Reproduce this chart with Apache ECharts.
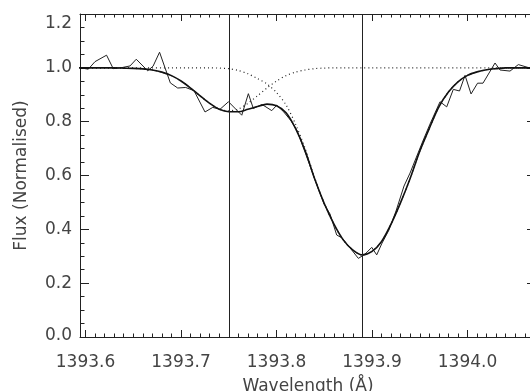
<!DOCTYPE html>
<html><head><meta charset="utf-8">
<script src="https://cdn.jsdelivr.net/npm/echarts@6/dist/echarts.min.js"></script>
<style>html,body{margin:0;padding:0;background:#fff}#c{width:530px;height:391px}</style>
</head><body><div id="c"></div>
<script>
// Observed spectrum (wavelength in Å, normalised flux)
const obsWave = [1393.5950,1393.6029,1393.6099,1393.6220,1393.6290,1393.6382,1393.6466,1393.6531,1393.6651,1393.6707,
1393.6775,1393.6888,1393.6965,1393.7049,1393.7136,1393.7251,1393.7332,1393.7408,1393.7497,1393.7636,
1393.7705,1393.7757,1393.7848,1393.7950,1393.8002,1393.8071,1393.8152,1393.8215,1393.8267,1393.8340,
1393.8403,1393.8497,1393.8560,1393.8630,1393.8686,1393.8770,1393.8857,1393.8927,1393.8997,1393.9049,
1393.9105,1393.9178,1393.9251,1393.9335,1393.9398,1393.9461,1393.9537,1393.9607,1393.9712,1393.9782,
1393.9851,1393.9916,1393.9974,1394.0037,1394.0105,1394.0162,1394.0288,1394.0340,1394.0445,1394.0532,
1394.0637,1394.0717];
const obsFlux = [1.000,0.995,1.023,1.047,0.997,1.001,1.007,1.032,0.989,1.006,
1.058,0.944,0.925,0.927,0.915,0.836,0.853,0.846,0.874,0.824,
0.904,0.849,0.864,0.841,0.861,0.838,0.803,0.767,0.717,0.646,
0.583,0.494,0.457,0.379,0.368,0.331,0.292,0.308,0.333,0.305,
0.349,0.398,0.468,0.561,0.609,0.665,0.732,0.791,0.874,0.855,
0.920,0.914,0.972,0.903,0.943,0.943,1.018,0.992,0.988,1.012,
1.001,0.999];

// Model grid, total fit and the two Gaussian components
const modelWave = [1393.59,1393.60,1393.61,1393.62,1393.63,1393.64,1393.65,1393.66,1393.67,1393.68,
1393.69,1393.70,1393.71,1393.72,1393.73,1393.74,1393.75,1393.76,1393.77,1393.78,
1393.79,1393.80,1393.81,1393.82,1393.83,1393.84,1393.85,1393.86,1393.87,1393.88,
1393.89,1393.90,1393.91,1393.92,1393.93,1393.94,1393.95,1393.96,1393.97,1393.98,
1393.99,1394.00,1394.01,1394.02,1394.03,1394.04,1394.05,1394.06,1394.07,1394.08];
const comp1Flux = [1.000,1.000,1.000,1.000,1.000,0.999,0.998,0.996,0.992,0.984,
0.971,0.951,0.925,0.896,0.868,0.847,0.840,0.847,0.868,0.896,
0.925,0.951,0.971,0.984,0.992,0.997,0.999,1.000,1.000,1.000,
1.000,1.000,1.000,1.000,1.000,1.000,1.000,1.000,1.000,1.000,
1.000,1.000,1.000,1.000,1.000,1.000,1.000,1.000,1.000,1.000];
const comp2Flux = [1.000,1.000,1.000,1.000,1.000,1.000,1.000,1.000,1.000,1.000,
1.000,1.000,1.000,1.000,1.000,0.999,0.997,0.990,0.978,0.960,
0.940,0.908,0.862,0.790,0.700,0.590,0.497,0.420,0.360,0.323,
0.305,0.318,0.355,0.420,0.500,0.590,0.690,0.775,0.855,0.910,
0.948,0.972,0.985,0.993,0.997,1.000,1.000,1.000,1.000,1.000];
const fitFlux = [1.000,1.000,1.000,1.000,1.000,0.999,0.998,0.996,0.992,0.984,
0.971,0.951,0.925,0.896,0.868,0.846,0.837,0.837,0.846,0.856,
0.865,0.859,0.833,0.774,0.692,0.587,0.496,0.420,0.360,0.323,
0.305,0.318,0.355,0.420,0.500,0.590,0.690,0.775,0.855,0.910,
0.948,0.972,0.985,0.993,0.997,1.000,1.000,1.000,1.000,1.000];

// Line centres (vertical markers)
const lineCentres = [1393.7502, 1393.891];

// Axes
const xMin = 1393.5942, xMax = 1394.0717;
const xMajorTicks = [1393.6, 1393.7, 1393.8, 1393.9, 1394.0];
const yMin = 0, yMax = 1.2, yStep = 0.2;

const xMinorTicks = [];
for (let i = 0; i <= 47; i++) xMinorTicks.push(Math.round((1393.60 + i * 0.01) * 1000) / 1000);

const FONT = 'DejaVu Sans';
const TXT = '#444';
const AX = '#222';

function pairs(xs, ys) { return xs.map((x, i) => [x, ys[i]]); }

const xBase = {
  type: 'value', min: xMin, max: xMax, gridIndex: 0,
  splitLine: { show: false }
};

const chart = echarts.init(document.getElementById('c'), null, { renderer: 'canvas' });
chart.setOption({
  animation: false,
  backgroundColor: '#fff',
  grid: { left: 80, top: 14, right: -6, bottom: 54, containLabel: false, outerBoundsMode: 'none' },
  xAxis: [
    Object.assign({}, xBase, {
      position: 'bottom',
      axisLine: { show: true, lineStyle: { color: AX, width: 1 } },
      axisTick: { show: true, inside: true, length: 7, customValues: xMajorTicks, lineStyle: { color: AX } },
      axisLabel: { show: true, customValues: xMajorTicks, margin: 17,
        formatter: v => Number(v).toFixed(1),
        fontFamily: FONT, fontSize: 17, color: TXT },
      name: 'Wavelength (Å)', nameLocation: 'middle', nameGap: 41,
      nameTextStyle: { fontFamily: FONT, fontSize: 17, color: TXT }
    }),
    Object.assign({}, xBase, {
      position: 'bottom',
      axisLine: { show: false },
      axisTick: { show: true, inside: true, length: 3.5, customValues: xMinorTicks, lineStyle: { color: AX } },
      axisLabel: { show: false }
    }),
    Object.assign({}, xBase, {
      position: 'top',
      axisLine: { show: true, lineStyle: { color: AX, width: 1 } },
      axisTick: { show: true, inside: true, length: 7, customValues: xMajorTicks, lineStyle: { color: AX } },
      axisLabel: { show: false }
    }),
    Object.assign({}, xBase, {
      position: 'top',
      axisLine: { show: false },
      axisTick: { show: true, inside: true, length: 3.5, customValues: xMinorTicks, lineStyle: { color: AX } },
      axisLabel: { show: false }
    })
  ],
  yAxis: [
    {
      type: 'value', min: yMin, max: yMax, interval: yStep, position: 'left',
      splitLine: { show: false },
      axisLine: { show: true, lineStyle: { color: AX, width: 1 } },
      axisTick: { show: true, inside: true, length: 9, lineStyle: { color: AX } },
      minorTick: { show: true, splitNumber: 4, length: 4.5, lineStyle: { color: AX } },
      axisLabel: {
        margin: 8, fontFamily: FONT, fontSize: 17, color: TXT,
        formatter: v => {
          const s = Number(v).toFixed(1);
          if (Math.abs(v - yMax) < 1e-9) return '{t|' + s + '}';
          if (Math.abs(v - yMin) < 1e-9) return '{b|' + s + '}';
          return s;
        },
        rich: {
          t: { fontFamily: FONT, fontSize: 17, color: TXT, padding: [20, 0, 0, 0] },
          b: { fontFamily: FONT, fontSize: 17, color: TXT, padding: [0, 0, 2, 0] }
        }
      },
      name: 'Flux (Normalised)', nameLocation: 'middle', nameGap: 50, nameRotate: 90,
      nameTextStyle: { fontFamily: FONT, fontSize: 17, color: TXT }
    },
    {
      type: 'value', min: yMin, max: yMax, interval: yStep, position: 'right',
      splitLine: { show: false },
      axisLine: { show: true, lineStyle: { color: AX, width: 1 } },
      axisTick: { show: true, inside: true, length: 9, lineStyle: { color: AX } },
      minorTick: { show: true, splitNumber: 4, length: 4.5, lineStyle: { color: AX } },
      axisLabel: { show: false }
    }
  ],
  series: [
    {
      name: 'Component 1', type: 'line', xAxisIndex: 0, yAxisIndex: 0,
      data: pairs(modelWave, comp1Flux), showSymbol: false, symbol: 'none', smooth: 0.3,
      lineStyle: { color: '#222', width: 1.2, type: [1, 3] }, z: 2
    },
    {
      name: 'Component 2', type: 'line', xAxisIndex: 0, yAxisIndex: 0,
      data: pairs(modelWave, comp2Flux), showSymbol: false, symbol: 'none', smooth: 0.3,
      lineStyle: { color: '#222', width: 1.2, type: [1, 3] }, z: 2
    },
    {
      name: 'Observed', type: 'line', xAxisIndex: 0, yAxisIndex: 0,
      data: pairs(obsWave, obsFlux), showSymbol: false, symbol: 'none',
      lineStyle: { color: '#222', width: 1 }, z: 3,
      markLine: {
        silent: true, symbol: 'none', label: { show: false },
        lineStyle: { color: '#222', width: 1, type: 'solid' },
        data: lineCentres.map(c => ({ xAxis: c }))
      }
    },
    {
      name: 'Fit', type: 'line', xAxisIndex: 0, yAxisIndex: 0,
      data: pairs(modelWave, fitFlux), showSymbol: false, symbol: 'none', smooth: 0.3,
      lineStyle: { color: '#111', width: 1.6 }, z: 4
    }
  ]
});
</script>
</body></html>
